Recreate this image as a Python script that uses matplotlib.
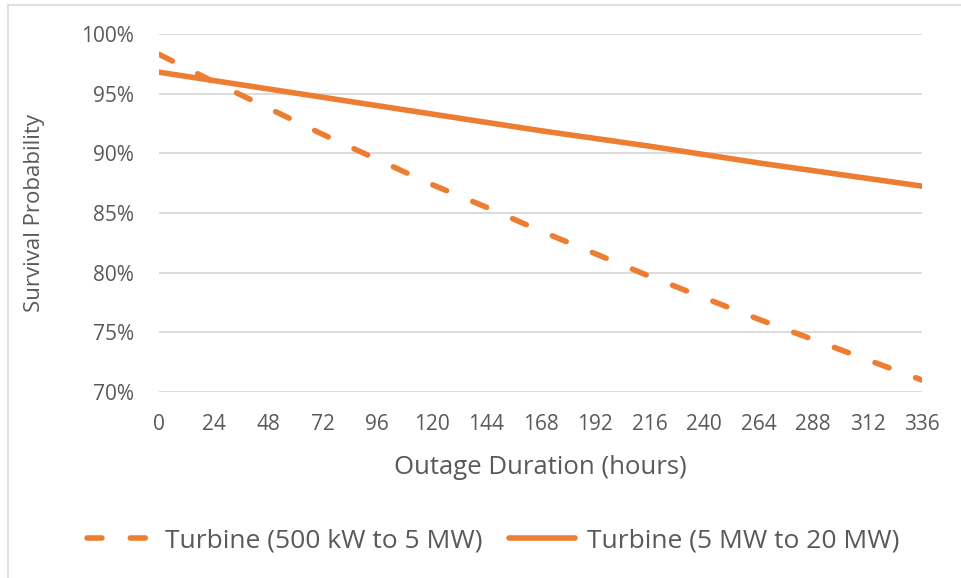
import matplotlib
matplotlib.use("Agg")
import matplotlib.pyplot as plt
from matplotlib.patches import Rectangle

# outage duration (hours)
hours = [0, 24, 48, 72, 96, 120, 144, 168, 192, 216, 240, 264, 288, 312, 336]

# survival probability (%)
small_turbine = [98.3, 96.0, 93.8, 91.6, 89.5, 87.4, 85.5, 83.5, 81.6, 79.7,
                 77.9, 76.1, 74.4, 72.7, 71.0]
large_turbine = [96.8, 96.1, 95.4, 94.7, 94.0, 93.3, 92.6, 91.9, 91.25, 90.6,
                 89.9, 89.2, 88.55, 87.9, 87.25]

labels = ["Turbine (500 kW to 5 MW)", "Turbine (5 MW to 20 MW)"]
yticks = [70, 75, 80, 85, 90, 95, 100]

orange = "#ED7D31"
grey_text = "#595959"
grid_col = "#D9D9D9"

plt.rcParams["font.family"] = ["Open Sans", "DejaVu Sans"]

W, H = 961, 578
fig = plt.figure(figsize=(W / 100, H / 100), dpi=100)
ax = fig.add_axes([159 / W, 1 - 392 / H, (922 - 159) / W, (392 - 34) / H])

# chart border (left and top visible)
fig.patches.append(Rectangle((8 / W, -0.05), 1.2, 1 - 5 / H + 0.05,
                             transform=fig.transFigure, fill=False,
                             edgecolor=grid_col, linewidth=1.2))

ax.plot(hours, small_turbine, color=orange, linewidth=4, linestyle=(0, (2.7, 5.1)),
        dash_capstyle="round", solid_capstyle="round", label=labels[0])
ax.plot(hours, large_turbine, color=orange, linewidth=4,
        solid_capstyle="round", label=labels[1])

ax.set_xlim(0, 336)
ax.set_ylim(70, 100)
ax.set_xticks(hours)
ax.set_yticks(yticks)
ax.set_yticklabels([f"{v}%" for v in yticks])
ax.yaxis.grid(True, color=grid_col, linewidth=1.3)
ax.set_axisbelow(True)
for s in ax.spines.values():
    s.set_visible(False)
ax.tick_params(length=0, labelsize=15, colors=grey_text)
ax.tick_params(axis="y", pad=18)
ax.tick_params(axis="x", pad=16)

ax.set_xlabel("Outage Duration (hours)", fontsize=18.5, color=grey_text, labelpad=14)
ax.set_ylabel("Survival Probability", fontsize=16, color=grey_text, labelpad=26)

fig.legend(loc="center", bbox_to_anchor=(493 / W, 1 - 541 / H), ncol=2,
           frameon=False, fontsize=19, labelcolor=grey_text,
           handlelength=2.5, handletextpad=0.45, columnspacing=1.0)

fig.savefig("out.png", dpi=100)
